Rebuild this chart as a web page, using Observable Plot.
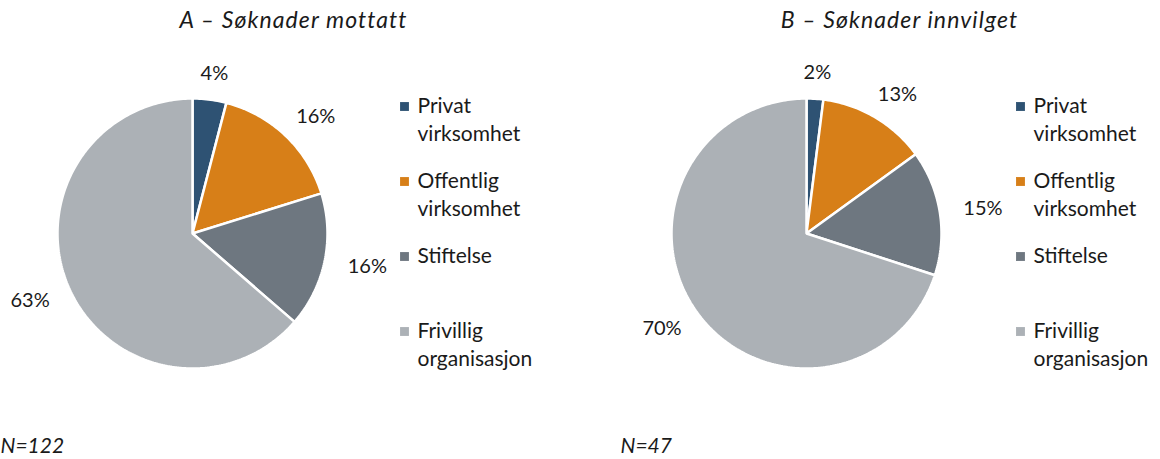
<!DOCTYPE html>
<html><head><meta charset="utf-8">
<script src="https://cdn.jsdelivr.net/npm/d3@7"></script>
<script src="https://cdn.jsdelivr.net/npm/@observablehq/plot@0.6"></script>
<style>body{margin:0;background:#fff} svg{display:block}</style>
</head><body><div id="chart"></div>
<script>
const categories = ["Privat virksomhet","Offentlig virksomhet","Stiftelse","Frivillig organisasjon"];
const legendLines = [["Privat","virksomhet"],["Offentlig","virksomhet"],["Stiftelse"],["Frivillig","organisasjon"]];
const palette = ["#2E5273","#D77F18","#6E7780","#ACB1B6"];
const valuesA = [4,16,16,63];
const valuesB = [2,13,15,70];
const titles = ["A – Søknader mottatt","B – Søknader innvilget"];
const nLabels = ["N=122","N=47"];

const W = 1160, H = 459;
const panels = [
  {values: valuesA, title: titles[0], n: nLabels[0], cx: 192, cy: 233, lx: 404, tx: 293, nx: 0},
  {values: valuesB, title: titles[1], n: nLabels[1], cx: 806, cy: 233, lx: 1020, tx: 899, nx: 620}
];
const R = 135, LFS = 20, TFS = 21, HFS = 23;

const wedges = [], labels = [], legendDots = [], legendText = [], headers = [], notes = [];
panels.forEach((p, pi) => {
  const arcs = d3.pie().sort(null).value(d => d)(p.values);
  arcs.forEach((a, i) => {
    const id = pi + "-" + i;
    wedges.push({id, cat: categories[i], x: p.cx, y: p.cy});
    const steps = Math.max(2, Math.ceil((a.endAngle - a.startAngle) / (Math.PI / 180)));
    for (let k = 0; k <= steps; k++) {
      const t = a.startAngle + (a.endAngle - a.startAngle) * k / steps;
      wedges.push({id, cat: categories[i], x: p.cx + R * Math.sin(t), y: p.cy - R * Math.cos(t)});
    }
    const mid = (a.startAngle + a.endAngle) / 2;
    const txt = p.values[i] + "%";
    const halfW = ((txt.length - 1) * 0.58 + 0.8) * LFS / 2 + 1;
    const halfH = 3;
    const s = Math.sin(mid), c = Math.cos(mid), D = R + 23;
    labels.push({x: p.cx + (D + halfW) * s, y: p.cy - (D + halfH) * c, t: txt});
    const y0 = 106 + i * 75;
    legendDots.push({x: p.lx, y: y0, cat: categories[i]});
    legendLines[i].forEach((line, j) => legendText.push({x: p.lx + 13, y: y0 + j * 28, t: line}));
  });
  headers.push({x: p.tx, y: 20, t: p.title});
  notes.push({x: p.nx, y: 446, t: p.n});
});

const chart = Plot.plot({
  width: W, height: H, margin: 0,
  x: {domain: [0, W], range: [0, W], axis: null},
  y: {domain: [0, H], range: [0, H], axis: null},
  color: {domain: categories, range: palette},
  style: {fontFamily: "Lato, sans-serif", background: "#fff"},
  marks: [
    Plot.line(wedges, {x: "x", y: "y", z: "id", fill: "cat", stroke: "white", strokeWidth: 2.5, curve: "linear-closed", strokeLinejoin: "miter"}),
    Plot.text(labels, {x: "x", y: "y", text: "t", fontSize: LFS, fill: "#1a1a1a"}),
    Plot.dot(legendDots, {x: "x", y: "y", fill: "cat", symbol: "square", r: 5}),
    Plot.text(legendText, {x: "x", y: "y", text: "t", textAnchor: "start", fontSize: TFS, fill: "#1a1a1a"}),
    Plot.text(headers, {x: "x", y: "y", text: "t", fontSize: HFS, fontStyle: "italic", fill: "#1a1a1a"}),
    Plot.text(notes, {x: "x", y: "y", text: "t", textAnchor: "start", fontSize: 21, fontStyle: "italic", fill: "#1a1a1a"})
  ]
});
chart.querySelectorAll('g[font-size="' + HFS + '"]').forEach(g => g.setAttribute("letter-spacing", "1.1"));
document.getElementById("chart").appendChild(chart);
</script>
</body></html>
